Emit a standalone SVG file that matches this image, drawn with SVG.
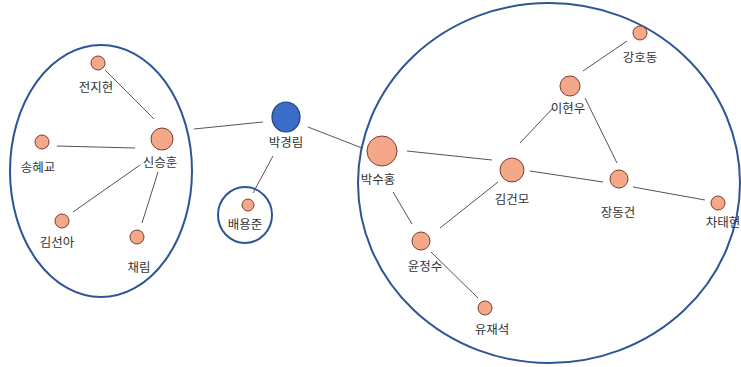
<svg xmlns="http://www.w3.org/2000/svg" width="741" height="367" viewBox="0 0 741 367">
<style>
.grp{fill:none;stroke:#2F5597;stroke-width:2}
.n{fill:#F4A889;stroke:#7A3E2A;stroke-width:1}
.hub{fill:#3A6CC8;stroke:#1F3F7A;stroke-width:1.2}
.e{stroke:#555;stroke-width:1;fill:none}
text{font-family:"Noto Sans CJK KR","Noto Sans",sans-serif;font-size:12.5px;fill:#333;text-anchor:middle}
</style>
<rect width="741" height="367" fill="#fff"/>
<g id="groups">
<ellipse class="grp" cx="101" cy="171" rx="91" ry="126"/>
<ellipse class="grp" cx="245" cy="215" rx="27" ry="28"/>
<ellipse class="grp" cx="549" cy="183" rx="191" ry="180"/>
</g>
<g id="connectors">
<line class="e" x1="105" y1="70" x2="154" y2="119"/>
<line class="e" x1="57" y1="146" x2="135" y2="148"/>
<line class="e" x1="73" y1="212" x2="140" y2="165"/>
<line class="e" x1="142" y1="223" x2="158" y2="172"/>
<line class="e" x1="194" y1="129" x2="263" y2="122"/>
<line class="e" x1="308" y1="127" x2="362" y2="148"/>
<line class="e" x1="273" y1="156" x2="253" y2="193"/>
<line class="e" x1="407" y1="151" x2="492" y2="160"/>
<line class="e" x1="530" y1="171" x2="603" y2="182"/>
<line class="e" x1="633" y1="187" x2="705" y2="200"/>
<line class="e" x1="583" y1="71" x2="627" y2="41"/>
<line class="e" x1="520" y1="143" x2="553" y2="108"/>
<line class="e" x1="585" y1="98" x2="617" y2="163"/>
<line class="e" x1="393" y1="192" x2="412" y2="224"/>
<line class="e" x1="440" y1="228" x2="498" y2="182"/>
<line class="e" x1="431" y1="252" x2="478" y2="298"/>
</g>
<g id="n-jeonjihyun"><circle class="n" cx="98" cy="63" r="7"/><text x="96" y="92">전지현</text></g>
<g id="n-shinseunghun"><circle class="n" cx="162" cy="139" r="11"/><text x="160" y="167">신승훈</text></g>
<g id="n-songhyegyo"><circle class="n" cx="42" cy="142" r="7"/><text x="38" y="172">송혜교</text></g>
<g id="n-kimsuna"><circle class="n" cx="62" cy="221" r="7"/><text x="57" y="247">김선아</text></g>
<g id="n-chaerim"><circle class="n" cx="137" cy="237" r="7"/><text x="139" y="272">채림</text></g>
<g id="n-parkkyunglim"><ellipse class="hub" cx="286" cy="117" rx="14" ry="15"/><text x="286" y="147">박경림</text></g>
<g id="n-baeyongjun"><circle class="n" cx="248" cy="205" r="6"/><text x="245" y="229">배용준</text></g>
<g id="n-parksuhong"><circle class="n" cx="382" cy="151" r="15"/><text x="378" y="184">박수홍</text></g>
<g id="n-kimgunmo"><circle class="n" cx="512" cy="170" r="12"/><text x="512" y="204">김건모</text></g>
<g id="n-leehyunwoo"><circle class="n" cx="570" cy="86" r="10"/><text x="568" y="113">이현우</text></g>
<g id="n-kanghodong"><circle class="n" cx="640" cy="33" r="7"/><text x="640" y="62">강호동</text></g>
<g id="n-jangdonggun"><circle class="n" cx="619" cy="179" r="9"/><text x="618" y="217">장동건</text></g>
<g id="n-chataehyun"><circle class="n" cx="718" cy="203" r="7"/><text x="723" y="227">차태현</text></g>
<g id="n-yoonjungsu"><circle class="n" cx="421" cy="241" r="9"/><text x="425" y="271">윤정수</text></g>
<g id="n-yoojaesuk"><circle class="n" cx="485" cy="308" r="7"/><text x="492" y="334">유재석</text></g>
</svg>
